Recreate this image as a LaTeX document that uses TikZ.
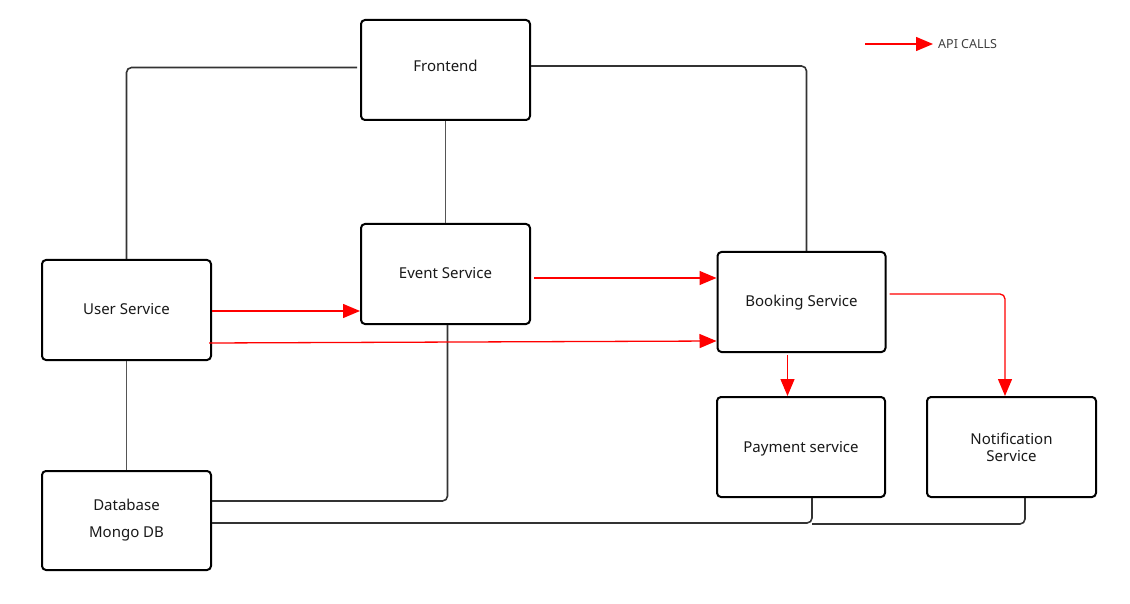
\documentclass[tikz,border=0pt]{standalone}
\usepackage{fontspec}
\setmainfont{Noto Sans}
\usetikzlibrary{arrows.meta,calc}
\definecolor{conn}{HTML}{333333}
\definecolor{connlight}{HTML}{555555}
\definecolor{apired}{HTML}{FF0000}
\tikzset{
  box/.style={draw=black, line width=2pt, rounded corners=4pt, fill=white,
    minimum width=169pt, minimum height=100pt, align=center,
    font=\fontsize{15}{17}\selectfont, text=black!90},
  oneline/.style={text height=11pt, text depth=3pt},
  link/.style={draw=conn, line width=1.6pt, rounded corners=5pt},
  linklight/.style={draw=connlight, line width=1.4pt},
  api/.style={draw=apired, line width=1.3pt, rounded corners=5pt,
    -{Triangle[length=17pt,width=14pt]}},
}
\begin{document}
\begin{tikzpicture}[x=1pt,y=-1pt]
\useasboundingbox[fill=white] (0,0) rectangle (1130,604);

% boxes
\node[box, text height=11pt, text depth=8pt] (fe) at (445.5,70) {Frontend};
\node[box, oneline] (ev) at (445.5,274) {Event Service};
\node[box, oneline] (us) at (126.5,310) {User Service};
\node[box, oneline, minimum width=168pt] (bk) at (801.5,302) {Booking Service};
\node[box, text height=11pt, text depth=1pt, minimum width=168pt] (pay) at (801,447) {Payment service};
\node[box] (nt) at (1011.5,447) {Notification\\Service};
\node[box, minimum height=99pt] (db) at (126.5,520.5) {Database\\[10pt]Mongo DB};

% plain connectors
\draw[link] ([xshift=-3pt,yshift=2.5pt]fe.west) -| (us.north);
\draw[link] ([yshift=4pt]fe.east) -| ([xshift=5pt]bk.north);
\draw[linklight] (fe.south) -- (ev.north);
\draw[linklight] (us.south) -- (db.north);
\draw[link] ([xshift=2pt]ev.south) |- ([yshift=19.5pt]db.east);
\draw[link] ([yshift=-2.5pt]db.east) -| ([xshift=11pt]pay.south);
\draw[link] ([xshift=13.5pt]nt.south) |- ([xshift=11pt,yshift=-26pt]pay.south);

% API calls
\draw[api] ([yshift=-1pt]us.east) -- ([yshift=-37pt]ev.west);
\draw[api] ([xshift=-3pt,yshift=-33pt]us.east) -- ([yshift=-39pt]bk.west);
\draw[api] ([xshift=3pt,yshift=-4pt]ev.east) -- ([yshift=24pt]bk.west);
\draw[api] ([xshift=3pt,yshift=8pt]bk.east) -| ([xshift=-6.5pt]nt.north);
\draw[api] ([xshift=-14pt,yshift=-2pt]bk.south) -- ([xshift=-13.5pt]pay.north);

% legend
\coordinate (l1) at (865,44);
\node[anchor=west, inner sep=0pt, font=\fontsize{12.5}{14}\selectfont, text=black!75] (leg) at (938,44) {API CALLS};
\draw[api] (l1) -- ([xshift=-5pt]leg.west);
\end{tikzpicture}
\end{document}
